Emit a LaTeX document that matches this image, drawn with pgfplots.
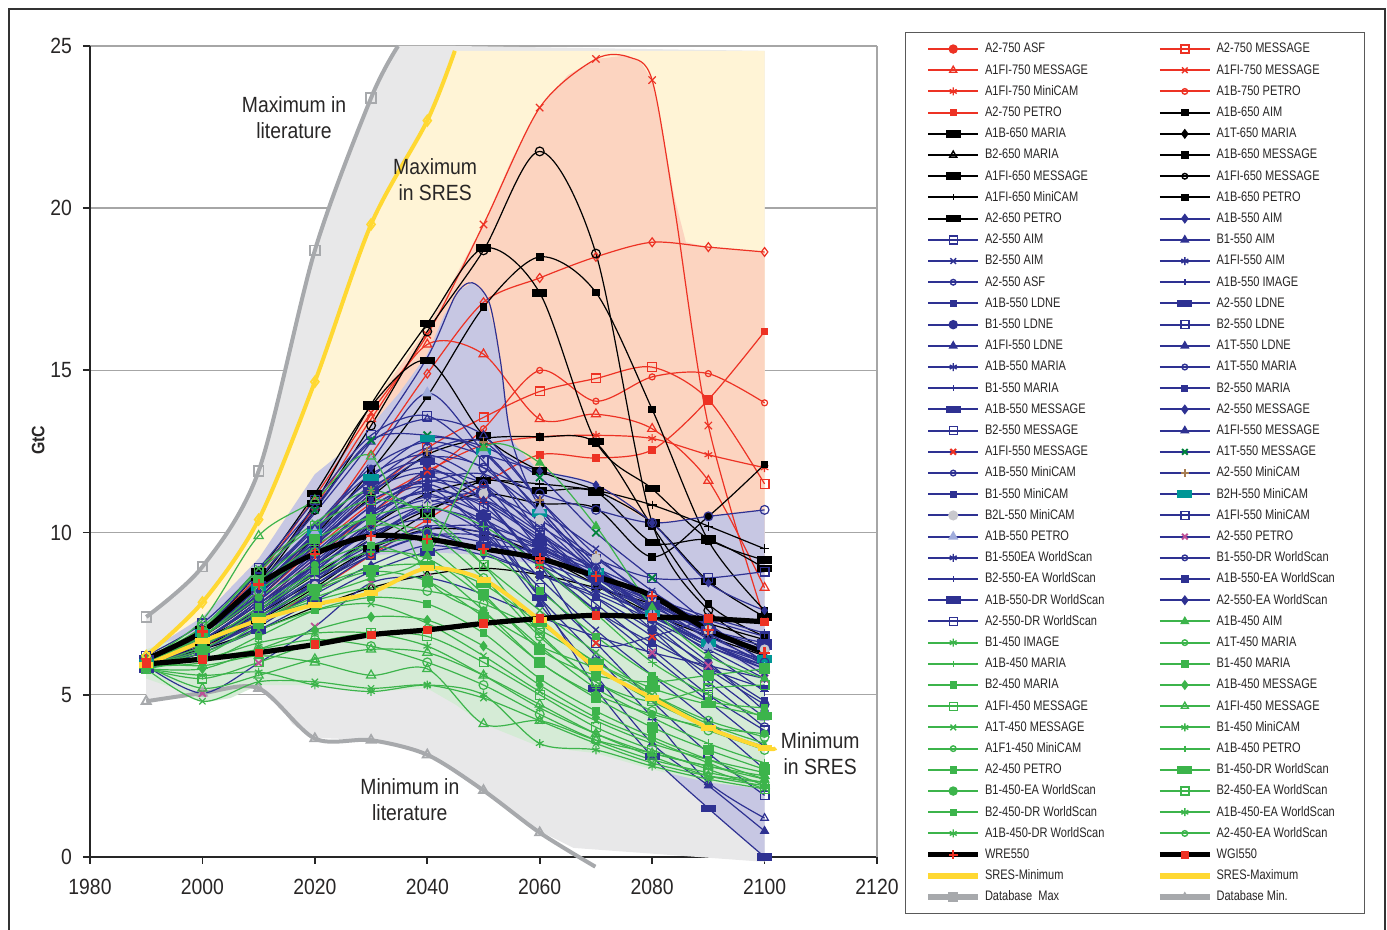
\documentclass[border=0pt]{standalone}
\usepackage{fontspec}
\setmainfont{Liberation Sans}[FakeStretch=0.88]
\newfontfamily\legendfont{Liberation Sans}[FakeStretch=0.8]
\usepackage{pgfplots}
\pgfplotsset{compat=1.18}

\definecolor{cRed}{RGB}{237,50,36}
\definecolor{cBlue}{RGB}{46,49,146}
\definecolor{cGreen}{RGB}{60,180,75}
\definecolor{cDkGreen}{RGB}{0,130,60}
\definecolor{cYellow}{RGB}{255,216,50}
\definecolor{cGrayLine}{RGB}{167,169,172}
\definecolor{fGray}{RGB}{232,232,233}
\definecolor{fYellow}{RGB}{255,244,214}
\definecolor{fRed}{RGB}{252,212,192}
\definecolor{fBlue}{RGB}{199,199,227}
\definecolor{fGreen}{RGB}{213,235,214}
\definecolor{cBrown}{RGB}{166,124,82}
\definecolor{cTeal}{RGB}{0,150,150}
\definecolor{cPink}{RGB}{190,80,150}
\definecolor{cLtBlue}{RGB}{160,172,220}
\definecolor{cLtGray}{RGB}{200,200,205}
\definecolor{cText}{RGB}{40,38,38}

\newcommand{\LA}[1]{\makebox[84pt][l]{#1}}
\newcommand{\LB}[1]{\makebox[62pt][l]{#1}}

\pgfplotsset{
  dataline/.style={line width=0.6pt, smooth, mark size=2.2pt, mark options={solid, line width=0.6pt}},
  sR/.style={cRed, dataline},
  sK/.style={black, dataline},
  sB/.style={cBlue, dataline},
  sG/.style={cGreen, dataline},
  rect/.style={mark=square*, mark options={solid, xscale=1.6, yscale=0.7}},
  legline/.style={line width=1pt, mark size=2pt, mark options={solid, line width=0.7pt}},
  lR/.style={cRed, legline},
  lK/.style={black, legline},
  lB/.style={cBlue, legline},
  lG/.style={cGreen, legline},
}

\begin{document}
\begin{tikzpicture}
\begin{axis}[
  scale only axis, width=393.5pt, height=405.5pt,
  xmin=1980, xmax=2120, ymin=0, ymax=25,
  clip=false,
  axis lines=left, axis line style={-, black!85, line width=0.9pt},
  xtick={1980,2000,...,2120}, ytick={0,5,...,25},
  tick align=outside, major tick length=3.5pt,
  tick style={black!85, line width=0.9pt},
  ymajorgrids, grid style={black!35, line width=0.7pt},
  /pgf/number format/1000 sep={},
  /pgf/number format/assume math mode=true,
  xticklabel style={font=\fontsize{11}{13}\selectfont, text=cText, yshift=-4pt},
  yticklabel style={font=\fontsize{11}{13}\selectfont, text=cText, xshift=-2pt},
  ylabel={GtC},
  ylabel style={font=\bfseries\fontsize{9}{10}\selectfont, text=cText, at={(axis description cs:-0.066,0.514)}, anchor=center},
  legend columns=2,
  legend cell align=left,
  legend image code/.code={\draw[mark repeat=2,mark phase=2] plot coordinates {(0pt,0pt) (12.5pt,0pt) (25pt,0pt)};},
  legend style={at={(1.0356,1.0172)}, anchor=north west, draw=black!65, fill=white,
    inner xsep=10pt, inner ysep=5pt, row sep=4pt,
    font=\legendfont\fontsize{6.9}{7.3}\selectfont, text=cText,
    nodes={inner xsep=2pt, inner ysep=0pt, text height=5.2pt, text depth=1.4pt}},
]

% ---- shaded ranges ----
% literature range
\addplot[draw=none, fill=fGray, forget plot] coordinates {(1990,7.4)(1995,8.0)(2000,8.95)(2005,10.2)(2010,11.9)(2015,15.0)(2020,18.7)(2025,21.3)(2030,23.4)(2034.8,25)(2044.9,25)(2100,24.85)(2100,-0.15)(2066,0.28)(2060,0.8)(2055,1.45)(2050,2.05)(2045,2.7)(2040,3.15)(2035,3.45)(2030,3.62)(2025,3.64)(2020,3.67)(2016,4.1)(2013,4.85)(2010,5.2)(2007,5.35)(2005,5.3)(2000,5.05)(1995,4.9)(1990,4.8)} -- cycle;
% SRES range
\addplot[draw=none, fill=fYellow, forget plot] coordinates {(1990,6.2)(1995,6.9)(2000,7.85)(2005,9.0)(2010,10.4)(2015,12.4)(2020,14.65)(2025,17.1)(2030,19.5)(2035,21.2)(2040,22.7)(2044.9,24.85)(2100,24.85)(2100,3.36)(2090,3.98)(2080,4.9)(2070,5.83)(2060,7.3)(2050,8.55)(2040,8.9)(2030,8.15)(2020,7.78)(2010,7.3)(2000,6.65)(1990,5.92)} -- cycle;
% 750 / 650 range
\addplot[draw=none, fill=fRed, forget plot] coordinates {(1990,6.2)(2000,7.3)(2010,8.9)(2020,11.2)(2030,13.9)(2040,16.3)(2045,17.9)(2050,19.5)(2055,21.5)(2060,23.1)(2065,24.1)(2070,24.6)(2075,24.7)(2078,24.5)(2080,23.95)(2082,22.2)(2084,20.3)(2086,18.95)(2090,18.8)(2100,18.65)(2100,8)(1990,6)} -- cycle;
% 550 range
\addplot[draw=none, fill=fBlue, forget plot] coordinates {(1990,6.3)(2000,7.4)(2010,9.2)(2015,10.5)(2020,11.8)(2025,12.5)(2030,13.3)(2035,14.3)(2040,15.5)(2043,16.7)(2046,17.5)(2048,17.7)(2050,17.4)(2052,16.25)(2055,12.85)(2060,11.85)(2065,11.75)(2070,11.5)(2075,10.8)(2080,10.3)(2085,10.35)(2090,10.5)(2100,10.7)(2100,0)(2090,1.5)(2080,3.1)(2070,4.5)(2060,5.5)(2050,6.0)(2040,6.3)(2030,6.5)(2020,6.5)(2010,6.0)(2000,5.6)(1990,5.6)} -- cycle;
% 450 range
\addplot[draw=none, fill=fGreen, forget plot] coordinates {(1990,6.4)(2000,7.0)(2010,7.9)(2020,8.8)(2030,9.3)(2040,9.4)(2050,9.3)(2060,9.0)(2070,8.6)(2080,7.7)(2090,6.5)(2100,5.6)(2100,2.1)(2090,2.3)(2080,2.7)(2070,3.2)(2060,3.4)(2050,4.1)(2045,4.7)(2040,5.2)(2030,5.1)(2020,5.3)(2010,5.3)(2005,4.9)(2000,4.75)(1995,5.2)(1990,5.5)} -- cycle;

% ---- literature extremes ----
\addplot[cGrayLine, line width=2pt, smooth, mark=square, mark size=2.4pt, mark options={solid, line width=0.9pt}, mark indices={1,2,3,4,5}, forget plot] coordinates {(1990,7.4)(2000,8.95)(2010,11.9)(2020,18.7)(2030,23.4)(2034.8,25)};
\addplot[cGrayLine, line width=2pt, smooth, mark=triangle, mark size=2.6pt, mark options={solid, line width=0.9pt}, mark indices={1,2,3,4,5,6,7,8}, forget plot] coordinates {(1990,4.8)(2000,5.05)(2010,5.2)(2020,3.65)(2030,3.6)(2040,3.15)(2050,2.05)(2060,0.75)(2069.9,-0.3)};

% ---- 750 scenarios ----
\addplot[sR, mark=diamond, forget plot] coordinates {(1990,6.1)(2000,6.9)(2010,8.2)(2020,10.0)(2030,12.4)(2040,14.9)(2050,17.1)(2060,17.85)(2070,18.5)(2080,18.95)(2090,18.8)(2100,18.65)};
\addplot[sR, mark=square, forget plot] coordinates {(1990,6.0)(2000,6.8)(2010,8.0)(2020,9.6)(2030,11.2)(2040,12.6)(2050,13.55)(2060,14.35)(2070,14.75)(2080,15.1)(2090,14.1)(2100,11.5)};
\addplot[sR, mark=triangle, mark size=2.6pt, forget plot] coordinates {(1990,6.0)(2000,7.0)(2010,8.6)(2020,10.8)(2030,13.5)(2040,15.8)(2050,15.5)(2060,13.5)(2070,13.65)(2080,13.2)(2090,11.6)(2100,8.3)};
\addplot[sR, mark=x, mark size=2.6pt, mark indices={1,2,3,4,5,6,7,8,9,11,13,14}, forget plot] coordinates {(1990,6.0)(2000,7.0)(2010,8.7)(2020,11.1)(2030,13.7)(2040,16.1)(2050,19.5)(2060,23.1)(2070,24.6)(2076,24.65)(2080,23.95)(2084,20.0)(2090,13.3)(2100,7.3)};
\addplot[sR, mark=asterisk, forget plot] coordinates {(1990,6.0)(2000,6.8)(2010,8.0)(2020,9.5)(2030,10.9)(2040,11.9)(2050,12.7)(2060,12.95)(2070,13.0)(2080,12.9)(2090,12.4)(2100,12.0)};
\addplot[sR, mark=o, mark size=1.5pt, forget plot] coordinates {(1990,6.0)(2000,6.7)(2010,7.8)(2020,9.2)(2030,10.6)(2040,11.8)(2050,13.2)(2060,15.0)(2070,14.05)(2080,14.8)(2090,14.9)(2100,14.0)};
\addplot[sR, mark=square*, mark size=1.6pt, forget plot] coordinates {(1990,6.0)(2000,6.5)(2010,7.2)(2020,8.2)(2030,9.3)(2040,10.4)(2050,11.5)(2060,12.4)(2070,12.3)(2080,12.55)(2090,14.1)(2100,16.2)};

% ---- 650 scenarios ----
\addplot[sK, mark=square*, mark size=1.6pt, forget plot] coordinates {(1990,6.0)(2000,6.8)(2010,8.1)(2020,9.9)(2030,11.9)(2040,14.2)(2050,16.95)(2060,18.5)(2070,17.4)(2080,13.8)(2090,9.75)(2100,7.6)};
\addplot[sK, rect, forget plot] coordinates {(1990,6.0)(2000,6.9)(2010,8.5)(2020,10.9)(2030,13.95)(2040,16.45)(2050,18.77)(2060,17.39)(2070,12.8)(2080,11.35)(2090,9.8)(2100,9.15)};
\addplot[sK, mark=o, forget plot] coordinates {(1990,6.0)(2000,6.9)(2010,8.4)(2020,10.7)(2030,13.3)(2040,16.2)(2050,18.7)(2060,21.75)(2070,18.6)(2080,10.3)(2090,7.6)(2100,6.4)};
\addplot[sK, mark=+, forget plot] coordinates {(1990,6.0)(2000,6.7)(2010,7.8)(2020,9.0)(2030,10.2)(2040,11.2)(2050,11.6)(2060,11.5)(2070,11.3)(2080,10.85)(2090,10.2)(2100,9.5)};
\addplot[sK, mark=square*, mark size=1.6pt, forget plot] coordinates {(1990,6.0)(2000,6.7)(2010,7.6)(2020,8.7)(2030,9.8)(2040,10.7)(2050,11.2)(2060,10.9)(2070,10.75)(2080,9.25)(2090,10.5)(2100,12.1)};
\addplot[sK, rect, forget plot] coordinates {(1990,6.0)(2000,6.5)(2010,7.3)(2020,8.3)(2030,9.5)(2040,10.6)(2050,11.6)(2060,11.3)(2070,11.25)(2080,9.7)(2090,9.77)(2100,8.9)};
\addplot[sK, mark=diamond*, mark size=1.8pt, forget plot] coordinates {(1990,6.0)(2000,6.6)(2010,7.5)(2020,8.5)(2030,9.5)(2040,10.1)(2050,10.0)(2060,9.3)(2070,8.4)(2080,7.5)(2090,6.8)(2100,6.2)};
\addplot[sK, mark=triangle, forget plot] coordinates {(1990,6.0)(2000,6.4)(2010,7.0)(2020,7.7)(2030,8.3)(2040,8.7)(2050,8.9)(2060,8.7)(2070,8.3)(2080,7.8)(2090,7.2)(2100,6.7)};
\addplot[sK, mark=square*, mark size=1.6pt, forget plot] coordinates {(1990,6.0)(2000,6.8)(2010,8.0)(2020,9.6)(2030,11.1)(2040,12.4)(2050,12.9)(2060,12.95)(2070,12.76)(2080,10.2)(2090,7.8)(2100,6.8)};
\addplot[sK, rect, forget plot] coordinates {(1990,6.0)(2000,7.0)(2010,8.8)(2020,11.2)(2030,13.9)(2040,15.3)(2050,13.0)(2060,11.9)(2070,11.3)(2080,10.3)(2090,8.5)(2100,7.4)};

% ---- 550 scenarios ----
\addplot[sB, mark=none, forget plot] coordinates {(1990,6.0)(2000,6.9)(2010,8.6)(2020,10.6)(2030,12.8)(2040,15.4)(2045,17.3)(2048,17.7)(2051,17.1)(2053,15.3)(2055,12.85)(2060,10.8)(2070,8.9)(2080,7.6)(2090,6.6)(2100,5.9)};
\addplot[sB, mark=o, forget plot] coordinates {(1990,6.0)(2000,6.8)(2010,8.2)(2020,9.8)(2030,11.5)(2040,12.6)(2050,12.0)(2060,11.2)(2070,10.7)(2080,10.3)(2090,10.5)(2100,10.7)};
\addplot[sB, mark=diamond*, mark size=1.8pt, forget plot] coordinates {(1990,6.0)(2000,6.9)(2010,8.4)(2020,10.2)(2030,12.0)(2040,12.8)(2050,12.4)(2060,11.9)(2070,11.47)(2080,10.3)(2090,8.45)(2100,7.6)};
\addplot[sB, mark=square, forget plot] coordinates {(1990,6.0)(2000,6.7)(2010,7.9)(2020,9.4)(2030,10.8)(2040,11.6)(2050,11.3)(2060,10.2)(2070,9.2)(2080,8.6)(2090,8.6)(2100,8.8)};
\addplot[sB, mark=triangle, forget plot] coordinates {(1990,6.1)(2000,7.0)(2010,8.8)(2020,10.8)(2030,12.8)(2040,13.5)(2050,13.0)(2060,11.0)(2070,9.0)(2080,7.5)(2090,6.5)(2100,5.9)};
\addplot[sB, mark=x, forget plot] coordinates {(1990,5.9)(2000,6.6)(2010,7.6)(2020,8.8)(2030,10.2)(2040,11.5)(2050,11.8)(2060,10.7)(2070,9.5)(2080,8.2)(2090,7.1)(2100,6.2)};
\addplot[sB, mark=asterisk, forget plot] coordinates {(1990,5.8)(2000,6.4)(2010,7.3)(2020,8.5)(2030,9.8)(2040,10.8)(2050,11.0)(2060,10.0)(2070,8.8)(2080,7.6)(2090,6.6)(2100,5.8)};
\addplot[sB, mark=o, forget plot] coordinates {(1990,6.0)(2000,6.8)(2010,8.0)(2020,9.6)(2030,11.2)(2040,12.3)(2050,12.0)(2060,10.3)(2070,8.7)(2080,7.2)(2090,5.8)(2100,4.7)};
\addplot[sB, mark=+, forget plot] coordinates {(1990,5.9)(2000,6.5)(2010,7.4)(2020,8.4)(2030,9.5)(2040,10.2)(2050,10.0)(2060,9.5)(2070,8.8)(2080,8.0)(2090,7.4)(2100,6.9)};
\addplot[sB, mark=square*, mark size=1.6pt, forget plot] coordinates {(1990,6.0)(2000,6.9)(2010,8.3)(2020,9.9)(2030,11.4)(2040,12.0)(2050,11.0)(2060,9.0)(2070,7.6)(2080,6.6)(2090,5.8)(2100,5.2)};
\addplot[sB, rect, forget plot] coordinates {(1990,5.8)(2000,6.3)(2010,7.0)(2020,7.9)(2030,8.8)(2040,9.4)(2050,9.6)(2060,9.4)(2070,8.6)(2080,7.8)(2090,7.0)(2100,6.5)};
\addplot[sB, mark=*, mark size=1.8pt, forget plot] coordinates {(1990,6.0)(2000,6.7)(2010,7.8)(2020,9.0)(2030,10.3)(2040,11.1)(2050,10.6)(2060,9.6)(2070,8.5)(2080,7.3)(2090,6.0)(2100,4.5)};
\addplot[sB, mark=square, forget plot] coordinates {(1990,5.9)(2000,6.6)(2010,7.7)(2020,9.1)(2030,10.5)(2040,11.3)(2050,10.8)(2060,9.2)(2070,7.8)(2080,6.4)(2090,5.0)(2100,3.9)};
\addplot[sB, mark=triangle, forget plot] coordinates {(1990,6.1)(2000,7.0)(2010,8.5)(2020,10.2)(2030,11.8)(2040,12.4)(2050,11.5)(2060,9.5)(2070,8.0)(2080,6.8)(2090,5.6)(2100,4.3)};
\addplot[sB, mark=triangle*, forget plot] coordinates {(1990,5.8)(2000,6.4)(2010,7.4)(2020,8.6)(2030,9.9)(2040,10.7)(2050,10.3)(2060,9.0)(2070,7.6)(2080,6.2)(2090,4.8)(2100,3.4)};
\addplot[sB, mark=x, forget plot] coordinates {(1990,6.0)(2000,6.8)(2010,8.1)(2020,9.6)(2030,11.0)(2040,11.5)(2050,10.5)(2060,8.6)(2070,7.0)(2080,5.6)(2090,4.2)(2100,2.7)};
\addplot[sB, mark=square, forget plot] coordinates {(1990,5.9)(2000,6.5)(2010,7.5)(2020,8.8)(2030,10.1)(2040,10.8)(2050,10.0)(2060,8.3)(2070,6.6)(2080,4.8)(2090,3.2)(2100,1.9)};
\addplot[sB, mark=triangle, forget plot] coordinates {(1990,6.0)(2000,6.7)(2010,7.8)(2020,9.2)(2030,10.6)(2040,11.2)(2050,10.2)(2060,8.0)(2070,6.2)(2080,4.3)(2090,2.3)(2100,1.2)};
\addplot[sB, mark=triangle*, forget plot] coordinates {(1990,6.0)(2000,6.7)(2010,7.9)(2020,9.3)(2030,10.8)(2040,11.4)(2050,10.0)(2060,7.8)(2070,5.6)(2080,3.5)(2090,2.2)(2100,0.8)};
\addplot[sB, rect, forget plot] coordinates {(1990,6.1)(2000,6.9)(2010,8.2)(2020,9.8)(2030,11.3)(2040,11.8)(2050,10.5)(2060,8.0)(2070,5.2)(2080,3.1)(2090,1.5)(2100,0.0)};
\addplot[sB, mark=o, forget plot] coordinates {(1990,5.8)(2000,6.3)(2010,7.1)(2020,8.2)(2030,9.3)(2040,9.9)(2050,9.7)(2060,9.1)(2070,8.4)(2080,7.6)(2090,6.8)(2100,6.0)};
\addplot[sB, mark=+, forget plot] coordinates {(1990,5.9)(2000,6.6)(2010,7.6)(2020,8.9)(2030,10.0)(2040,10.4)(2050,9.8)(2060,9.0)(2070,8.2)(2080,7.5)(2090,6.9)(2100,6.4)};
\addplot[sB, rect, forget plot] coordinates {(1990,6.0)(2000,6.9)(2010,8.4)(2020,10.1)(2030,11.6)(2040,12.2)(2050,11.2)(2060,9.7)(2070,8.6)(2080,7.7)(2090,7.0)(2100,6.6)};
\addplot[sB, mark=diamond*, mark size=1.8pt, forget plot] coordinates {(1990,5.9)(2000,6.4)(2010,7.2)(2020,8.1)(2030,9.0)(2040,9.6)(2050,9.3)(2060,8.7)(2070,8.1)(2080,7.3)(2090,6.4)(2100,5.5)};
\addplot[sB, mark=square, forget plot] coordinates {(1990,6.2)(2000,7.2)(2010,8.9)(2020,11.0)(2030,13.0)(2040,13.6)(2050,12.2)(2060,10.0)(2070,8.4)(2080,7.4)(2090,6.6)(2100,6.0)};
\addplot[sB, mark=x, mark options={solid, cRed, line width=0.9pt}, mark size=2.6pt, forget plot] coordinates {(1990,5.9)(2000,6.5)(2010,7.5)(2020,8.8)(2030,10.3)(2040,11.9)(2050,11.0)(2060,9.0)(2070,6.6)(2080,6.8)(2090,7.3)(2100,7.25)};
\addplot[sB, mark=x, mark options={solid, cDkGreen, line width=0.9pt}, mark size=2.6pt, forget plot] coordinates {(1990,6.0)(2000,7.0)(2010,8.6)(2020,10.7)(2030,12.85)(2040,13.0)(2050,12.65)(2060,11.7)(2070,10.0)(2080,8.6)(2090,7.2)(2100,6.0)};
\addplot[sB, mark=o, forget plot] coordinates {(1990,5.9)(2000,6.5)(2010,7.6)(2020,9.0)(2030,10.6)(2040,11.8)(2050,11.5)(2060,10.0)(2070,8.5)(2080,7.0)(2090,5.4)(2100,4.0)};
\addplot[sB, mark=+, mark options={solid, cBrown, line width=0.9pt}, forget plot] coordinates {(1990,6.0)(2000,6.8)(2010,8.1)(2020,9.7)(2030,11.3)(2040,12.5)(2050,12.8)(2060,11.0)(2070,9.3)(2080,7.9)(2090,6.9)(2100,6.3)};
\addplot[sB, mark=square*, mark size=1.6pt, forget plot] coordinates {(1990,5.9)(2000,6.5)(2010,7.5)(2020,8.6)(2030,9.6)(2040,10.0)(2050,9.4)(2060,8.7)(2070,8.0)(2080,7.0)(2090,5.9)(2100,4.8)};
\addplot[sB, mark=square*, mark options={solid, cTeal, xscale=1.6, yscale=0.7}, forget plot] coordinates {(1990,6.0)(2000,6.9)(2010,8.3)(2020,10.0)(2030,11.7)(2040,12.9)(2050,12.5)(2060,10.6)(2070,8.8)(2080,7.5)(2090,6.6)(2100,6.1)};
\addplot[sB, mark=*, mark options={solid, cLtGray}, forget plot] coordinates {(1990,5.8)(2000,6.4)(2010,7.3)(2020,8.5)(2030,9.8)(2040,10.9)(2050,11.2)(2060,10.4)(2070,9.2)(2080,8.0)(2090,7.0)(2100,6.4)};
\addplot[sB, mark=square, forget plot] coordinates {(1990,6.0)(2000,6.6)(2010,7.4)(2020,8.4)(2030,9.3)(2040,9.9)(2050,9.9)(2060,9.3)(2070,8.6)(2080,7.9)(2090,7.3)(2100,6.8)};
\addplot[sB, mark=triangle*, mark options={solid, cLtBlue}, mark size=2.8pt, forget plot] coordinates {(1990,6.0)(2000,6.8)(2010,8.2)(2020,10.0)(2030,12.2)(2040,14.3)(2050,12.5)(2060,10.7)(2070,8.9)(2080,7.5)(2090,6.5)(2100,5.8)};
\addplot[sB, mark=x, mark options={solid, cPink, line width=0.9pt}, mark size=2.6pt, forget plot] coordinates {(1990,5.9)(2000,5.05)(2010,5.98)(2020,7.1)(2030,8.45)(2040,8.6)(2050,8.1)(2060,7.4)(2070,6.8)(2080,6.3)(2090,5.9)(2100,5.5)};
\addplot[sB, mark=x, forget plot] coordinates {(1990,6.0)(2000,6.6)(2010,7.7)(2020,9.0)(2030,10.3)(2040,11.0)(2050,10.4)(2060,9.5)(2070,8.7)(2080,7.9)(2090,6.9)(2100,5.9)};
\addplot[sB, mark=o, forget plot] coordinates {(1990,5.9)(2000,6.4)(2010,7.3)(2020,8.4)(2030,9.4)(2040,10.1)(2050,10.2)(2060,9.6)(2070,8.9)(2080,8.1)(2090,7.1)(2100,6.0)};
\addplot[sB, mark=+, forget plot] coordinates {(1990,6.0)(2000,6.7)(2010,7.9)(2020,9.3)(2030,10.6)(2040,11.3)(2050,10.9)(2060,9.8)(2070,8.6)(2080,7.5)(2090,6.3)(2100,5.1)};
\addplot[sB, mark=diamond*, mark size=1.8pt, forget plot] coordinates {(1990,6.1)(2000,6.9)(2010,8.2)(2020,9.7)(2030,11.0)(2040,11.6)(2050,11.0)(2060,9.9)(2070,8.9)(2080,7.8)(2090,6.7)(2100,5.6)};

% ---- 450 scenarios ----
\addplot[sG, mark=triangle*, forget plot] coordinates {(1990,6.0)(2000,6.6)(2010,7.3)(2020,8.0)(2030,8.6)(2040,9.3)(2050,12.6)(2060,12.15)(2070,10.2)(2080,7.7)(2090,6.2)(2100,5.5)};
\addplot[sG, mark=triangle, mark size=2.6pt, forget plot] coordinates {(1990,6.1)(2000,7.3)(2010,9.9)(2020,11.0)(2030,12.35)(2040,8.6)(2050,7.5)(2060,6.5)(2070,5.8)(2080,4.8)(2090,4.0)(2100,3.4)};
\addplot[sG, mark=x, forget plot] coordinates {(1990,6.0)(2000,7.0)(2010,8.9)(2020,10.3)(2030,11.3)(2040,10.5)(2050,9.0)(2060,7.6)(2070,6.3)(2080,5.0)(2090,4.1)(2100,3.5)};
\addplot[sG, mark=o, forget plot] coordinates {(1990,6.0)(2000,6.8)(2010,8.2)(2020,9.4)(2030,10.2)(2040,10.0)(2050,8.6)(2060,6.8)(2070,5.4)(2080,4.5)(2090,3.9)(2100,3.3)};
\addplot[sG, mark=+, forget plot] coordinates {(1990,5.9)(2000,6.5)(2010,7.6)(2020,8.7)(2030,9.4)(2040,9.2)(2050,8.0)(2060,6.5)(2070,5.2)(2080,4.3)(2090,3.5)(2100,2.9)};
\addplot[sG, mark=square*, mark size=2.4pt, forget plot] coordinates {(1990,6.0)(2000,6.2)(2010,7.2)(2020,8.2)(2030,8.8)(2040,8.5)(2050,7.4)(2060,6.0)(2070,4.9)(2080,4.0)(2090,3.3)(2100,2.7)};
\addplot[sG, mark=square*, mark size=1.6pt, forget plot] coordinates {(1990,5.9)(2000,6.0)(2010,6.8)(2020,7.6)(2030,8.0)(2040,7.8)(2050,6.9)(2060,5.5)(2070,4.5)(2080,3.7)(2090,3.0)(2100,2.4)};
\addplot[sG, mark=diamond*, forget plot] coordinates {(1990,5.8)(2000,5.8)(2010,6.4)(2020,7.0)(2030,7.4)(2040,7.3)(2050,6.5)(2060,5.3)(2070,4.3)(2080,3.6)(2090,2.9)(2100,2.2)};
\addplot[sG, mark=square, forget plot] coordinates {(1990,5.8)(2000,5.5)(2010,6.0)(2020,6.6)(2030,6.9)(2040,6.8)(2050,6.0)(2060,5.0)(2070,4.0)(2080,3.3)(2090,2.7)(2100,2.1)};
\addplot[sG, mark=triangle, mark size=2.6pt, forget plot] coordinates {(1990,5.9)(2000,5.2)(2010,5.6)(2020,6.1)(2030,6.4)(2040,6.3)(2050,5.6)(2060,4.7)(2070,3.8)(2080,3.1)(2090,2.5)(2100,2.2)};
\addplot[sG, mark=x, forget plot] coordinates {(1990,5.8)(2000,4.8)(2010,5.4)(2020,5.4)(2030,5.2)(2040,5.3)(2050,4.9)(2060,4.2)(2070,3.5)(2080,2.9)(2090,2.5)(2100,2.3)};
\addplot[sG, mark=asterisk, forget plot] coordinates {(1990,5.8)(2000,5.6)(2010,5.7)(2020,5.3)(2030,5.1)(2040,5.3)(2050,5.0)(2060,3.5)(2070,3.3)(2080,2.8)(2090,2.4)(2100,2.1)};
\addplot[sG, mark=triangle, mark size=2.6pt, forget plot] coordinates {(1990,6.0)(2000,5.9)(2010,6.2)(2020,6.0)(2030,5.6)(2040,5.8)(2050,4.1)(2060,4.2)(2070,3.6)(2080,3.2)(2090,2.8)(2100,2.5)};
\addplot[sG, mark=o, forget plot] coordinates {(1990,6.0)(2000,6.6)(2010,7.3)(2020,7.9)(2030,8.3)(2040,8.2)(2050,7.8)(2060,7.0)(2070,6.0)(2080,5.0)(2090,4.2)(2100,3.7)};
\addplot[sG, mark=+, forget plot] coordinates {(1990,6.1)(2000,7.0)(2010,8.4)(2020,9.6)(2030,10.5)(2040,10.8)(2050,10.2)(2060,9.0)(2070,7.5)(2080,6.0)(2090,5.0)(2100,4.3)};
\addplot[sG, mark=square*, mark size=1.6pt, forget plot] coordinates {(1990,6.0)(2000,6.6)(2010,7.7)(2020,8.8)(2030,9.6)(2040,9.8)(2050,9.4)(2060,8.2)(2070,6.8)(2080,5.6)(2090,4.8)(2100,4.6)};
\addplot[sG, rect, forget plot] coordinates {(1990,5.9)(2000,6.4)(2010,7.4)(2020,8.3)(2030,8.9)(2040,9.0)(2050,8.4)(2060,7.2)(2070,6.0)(2080,5.2)(2090,4.7)(2100,4.35)};
\addplot[sG, mark=*, mark size=1.8pt, forget plot] coordinates {(1990,6.0)(2000,6.8)(2010,8.0)(2020,9.0)(2030,9.6)(2040,9.0)(2050,7.6)(2060,6.0)(2070,5.0)(2080,4.4)(2090,4.0)(2100,3.8)};
\addplot[sG, mark=square, forget plot] coordinates {(1990,6.1)(2000,7.1)(2010,8.8)(2020,10.2)(2030,11.0)(2040,10.6)(2050,9.0)(2060,6.9)(2070,5.4)(2080,4.8)(2090,5.2)(2100,5.3)};
\addplot[sG, mark=square*, mark size=2.4pt, forget plot] coordinates {(1990,6.0)(2000,6.9)(2010,8.5)(2020,9.8)(2030,10.4)(2040,9.6)(2050,8.1)(2060,6.4)(2070,5.6)(2080,5.4)(2090,5.6)(2100,5.8)};
\addplot[sG, mark=x, forget plot] coordinates {(1990,5.9)(2000,6.3)(2010,7.0)(2020,7.6)(2030,7.8)(2040,7.2)(2050,6.2)(2060,5.1)(2070,4.2)(2080,3.5)(2090,3.0)(2100,2.6)};
\addplot[sG, mark=asterisk, forget plot] coordinates {(1990,6.0)(2000,6.1)(2010,6.6)(2020,6.9)(2030,6.9)(2040,6.5)(2050,5.6)(2060,4.6)(2070,3.8)(2080,3.2)(2090,2.8)(2100,2.4)};
\addplot[sG, mark=o, forget plot] coordinates {(1990,5.8)(2000,6.1)(2010,6.4)(2020,6.7)(2030,6.5)(2040,6.0)(2050,5.3)(2060,4.4)(2070,3.6)(2080,3.0)(2090,2.6)(2100,2.3)};

% ---- SRES extremes ----
\addplot[cYellow, line width=2pt, smooth, mark=diamond, mark size=2.6pt, mark options={solid, line width=0.9pt}, mark indices={1,2,3,4,5,6}, forget plot] coordinates {(1990,6.2)(2000,7.85)(2010,10.4)(2020,14.65)(2030,19.5)(2040,22.7)(2044.9,24.85)};
\addplot[cYellow, line width=2pt, smooth, mark=square*, mark size=2.2pt, mark options={solid, line width=0.4pt, xscale=1.5, yscale=0.55}, mark indices={1,2,3,4,5,6,7,8,9,10,11,12}, forget plot] coordinates {(1990,5.92)(2000,6.65)(2010,7.3)(2020,7.78)(2030,8.15)(2040,8.9)(2050,8.55)(2060,7.3)(2070,5.83)(2080,4.9)(2090,3.98)(2100,3.36)(2102,3.36)};

% ---- WRE and WGI profiles ----
\addplot[black, line width=2.6pt, smooth, mark=+, mark size=2.6pt, mark options={solid, cRed, line width=1.1pt}, forget plot] coordinates {(1990,6.1)(2000,6.95)(2010,8.4)(2020,9.35)(2030,9.9)(2040,9.8)(2050,9.5)(2060,9.2)(2070,8.65)(2080,8.05)(2090,7.0)(2100,6.3)};
\addplot[black, line width=2.6pt, smooth, mark=square*, mark size=1.9pt, mark options={solid, cRed, line width=0.3pt}, forget plot] coordinates {(1990,5.95)(2000,6.1)(2010,6.3)(2020,6.55)(2030,6.85)(2040,7.0)(2050,7.2)(2060,7.35)(2070,7.45)(2080,7.4)(2090,7.35)(2100,7.25)};

% right frame of the plot area
\draw[black!35, line width=0.7pt] (axis cs:2120,0) -- (axis cs:2120,25);

% annotations
\node[align=center, text=cText, font=\fontsize{11}{13}\selectfont] at (axis cs:2016.3,22.78) {Maximum in\\literature};
\node[align=center, text=cText, font=\fontsize{11}{13}\selectfont] at (axis cs:2041.4,20.87) {Maximum\\in SRES};
\node[align=center, text=cText, font=\fontsize{11}{13}\selectfont] at (axis cs:2036.9,1.76) {Minimum in\\literature};
\node[align=center, text=cText, font=\fontsize{11}{13}\selectfont] at (axis cs:2109.9,3.2) {Minimum\\in SRES};

% ---- legend ----
\addlegendimage{lR, mark=*}\addlegendentry{\LA{A2-750 ASF}}
\addlegendimage{lR, mark=square}\addlegendentry{\LB{A2-750 MESSAGE}}
\addlegendimage{lR, mark=triangle}\addlegendentry{\LA{A1FI-750 MESSAGE}}
\addlegendimage{lR, mark=x}\addlegendentry{\LB{A1FI-750 MESSAGE}}
\addlegendimage{lR, mark=asterisk}\addlegendentry{\LA{A1FI-750 MiniCAM}}
\addlegendimage{lR, mark=o, mark size=1.4pt}\addlegendentry{\LB{A1B-750 PETRO}}
\addlegendimage{lR, mark=square*, mark size=1.5pt}\addlegendentry{\LA{A2-750 PETRO}}
\addlegendimage{lK, mark=square*, mark size=1.5pt}\addlegendentry{\LB{A1B-650 AIM}}
\addlegendimage{lK, rect}\addlegendentry{\LA{A1B-650 MARIA}}
\addlegendimage{lK, mark=diamond*}\addlegendentry{\LB{A1T-650 MARIA}}
\addlegendimage{lK, mark=triangle}\addlegendentry{\LA{B2-650 MARIA}}
\addlegendimage{lK, mark=square*, mark size=1.5pt}\addlegendentry{\LB{A1B-650 MESSAGE}}
\addlegendimage{lK, rect}\addlegendentry{\LA{A1FI-650 MESSAGE}}
\addlegendimage{lK, mark=o, mark size=1.4pt}\addlegendentry{\LB{A1FI-650 MESSAGE}}
\addlegendimage{lK, mark=+, mark size=1.5pt}\addlegendentry{\LA{A1FI-650 MiniCAM}}
\addlegendimage{lK, mark=square*, mark size=1.5pt}\addlegendentry{\LB{A1B-650 PETRO}}
\addlegendimage{lK, rect}\addlegendentry{\LA{A2-650 PETRO}}
\addlegendimage{lB, mark=diamond*}\addlegendentry{\LB{A1B-550 AIM}}
\addlegendimage{lB, mark=square}\addlegendentry{\LA{A2-550 AIM}}
\addlegendimage{lB, mark=triangle*}\addlegendentry{\LB{B1-550 AIM}}
\addlegendimage{lB, mark=x}\addlegendentry{\LA{B2-550 AIM}}
\addlegendimage{lB, mark=asterisk}\addlegendentry{\LB{A1FI-550 AIM}}
\addlegendimage{lB, mark=o, mark size=1.4pt}\addlegendentry{\LA{A2-550 ASF}}
\addlegendimage{lB, mark=+, mark size=1.5pt}\addlegendentry{\LB{A1B-550 IMAGE}}
\addlegendimage{lB, mark=square*, mark size=1.5pt}\addlegendentry{\LA{A1B-550 LDNE}}
\addlegendimage{lB, rect}\addlegendentry{\LB{A2-550 LDNE}}
\addlegendimage{lB, mark=*}\addlegendentry{\LA{B1-550 LDNE}}
\addlegendimage{lB, mark=square}\addlegendentry{\LB{B2-550 LDNE}}
\addlegendimage{lB, mark=triangle*}\addlegendentry{\LA{A1FI-550 LDNE}}
\addlegendimage{lB, mark=triangle*}\addlegendentry{\LB{A1T-550 LDNE}}
\addlegendimage{lB, mark=asterisk}\addlegendentry{\LA{A1B-550 MARIA}}
\addlegendimage{lB, mark=o, mark size=1.4pt}\addlegendentry{\LB{A1T-550 MARIA}}
\addlegendimage{lB, mark=+, mark size=1.5pt}\addlegendentry{\LA{B1-550 MARIA}}
\addlegendimage{lB, mark=square*, mark size=1.4pt}\addlegendentry{\LB{B2-550 MARIA}}
\addlegendimage{lB, rect}\addlegendentry{\LA{A1B-550 MESSAGE}}
\addlegendimage{lB, mark=diamond*}\addlegendentry{\LB{A2-550 MESSAGE}}
\addlegendimage{lB, mark=square}\addlegendentry{\LA{B2-550 MESSAGE}}
\addlegendimage{lB, mark=triangle*}\addlegendentry{\LB{A1FI-550 MESSAGE}}
\addlegendimage{lB, mark=x, mark options={solid, cRed, line width=1pt}}\addlegendentry{\LA{A1FI-550 MESSAGE}}
\addlegendimage{lB, mark=x, mark options={solid, cDkGreen, line width=1pt}}\addlegendentry{\LB{A1T-550 MESSAGE}}
\addlegendimage{lB, mark=o, mark size=1.4pt}\addlegendentry{\LA{A1B-550 MiniCAM}}
\addlegendimage{lB, mark=+, mark options={solid, cBrown, line width=1pt}}\addlegendentry{\LB{A2-550 MiniCAM}}
\addlegendimage{lB, mark=square*, mark size=1.5pt}\addlegendentry{\LA{B1-550 MiniCAM}}
\addlegendimage{lB, mark=square*, mark options={solid, cTeal, xscale=1.6, yscale=0.7}}\addlegendentry{\LB{B2H-550 MiniCAM}}
\addlegendimage{lB, mark=*, mark options={solid, cLtGray}}\addlegendentry{\LA{B2L-550 MiniCAM}}
\addlegendimage{lB, mark=square}\addlegendentry{\LB{A1FI-550 MiniCAM}}
\addlegendimage{lB, mark=triangle*, mark options={solid, cLtBlue}}\addlegendentry{\LA{A1B-550 PETRO}}
\addlegendimage{lB, mark=x, mark options={solid, cPink, line width=1pt}}\addlegendentry{\LB{A2-550 PETRO}}
\addlegendimage{lB, mark=asterisk}\addlegendentry{\LA{B1-550EA WorldScan}}
\addlegendimage{lB, mark=o, mark size=1.4pt}\addlegendentry{\LB{B1-550-DR WorldScan}}
\addlegendimage{lB, mark=+, mark size=1.5pt}\addlegendentry{\LA{B2-550-EA WorldScan}}
\addlegendimage{lB, mark=square*, mark size=1.5pt}\addlegendentry{\LB{A1B-550-EA WorldScan}}
\addlegendimage{lB, rect}\addlegendentry{\LA{A1B-550-DR WorldScan}}
\addlegendimage{lB, mark=diamond*}\addlegendentry{\LB{A2-550-EA WorldScan}}
\addlegendimage{lB, mark=square}\addlegendentry{\LA{A2-550-DR WorldScan}}
\addlegendimage{lG, mark=triangle*}\addlegendentry{\LB{A1B-450 AIM}}
\addlegendimage{lG, mark=asterisk}\addlegendentry{\LA{B1-450 IMAGE}}
\addlegendimage{lG, mark=o, mark size=1.4pt}\addlegendentry{\LB{A1T-450 MARIA}}
\addlegendimage{lG, mark=+, mark size=1.5pt}\addlegendentry{\LA{A1B-450 MARIA}}
\addlegendimage{lG, mark=square*, mark size=1.5pt}\addlegendentry{\LB{B1-450 MARIA}}
\addlegendimage{lG, mark=square*, mark size=1.5pt}\addlegendentry{\LA{B2-450 MARIA}}
\addlegendimage{lG, mark=diamond*}\addlegendentry{\LB{A1B-450 MESSAGE}}
\addlegendimage{lG, mark=square}\addlegendentry{\LA{A1FI-450 MESSAGE}}
\addlegendimage{lG, mark=triangle}\addlegendentry{\LB{A1FI-450 MESSAGE}}
\addlegendimage{lG, mark=x}\addlegendentry{\LA{A1T-450 MESSAGE}}
\addlegendimage{lG, mark=asterisk}\addlegendentry{\LB{B1-450 MiniCAM}}
\addlegendimage{lG, mark=o, mark size=1.4pt}\addlegendentry{\LA{A1F1-450 MiniCAM}}
\addlegendimage{lG, mark=+, mark size=1.5pt}\addlegendentry{\LB{A1B-450 PETRO}}
\addlegendimage{lG, mark=square*, mark size=1.5pt}\addlegendentry{\LA{A2-450 PETRO}}
\addlegendimage{lG, rect}\addlegendentry{\LB{B1-450-DR WorldScan}}
\addlegendimage{lG, mark=*}\addlegendentry{\LA{B1-450-EA WorldScan}}
\addlegendimage{lG, mark=square}\addlegendentry{\LB{B2-450-EA WorldScan}}
\addlegendimage{lG, mark=square*, mark size=1.5pt}\addlegendentry{\LA{B2-450-DR WorldScan}}
\addlegendimage{lG, mark=asterisk}\addlegendentry{\LB{A1B-450-EA WorldScan}}
\addlegendimage{lG, mark=asterisk}\addlegendentry{\LA{A1B-450-DR WorldScan}}
\addlegendimage{lG, mark=o, mark size=1.4pt}\addlegendentry{\LB{A2-450-EA WorldScan}}
\addlegendimage{black, line width=2.8pt, mark=+, mark size=2.2pt, mark options={solid, cRed, line width=1pt}}\addlegendentry{\LA{WRE550}}
\addlegendimage{black, line width=2.8pt, mark=square*, mark size=1.8pt, mark options={solid, cRed, line width=0.3pt}}\addlegendentry{\LB{WGI550}}
\addlegendimage{cYellow, line width=2.8pt, mark=none}\addlegendentry{\LA{SRES-Minimum}}
\addlegendimage{cYellow, line width=2.8pt, mark=none}\addlegendentry{\LB{SRES-Maximum}}
\addlegendimage{cGrayLine, line width=2.8pt, mark=square, mark size=2pt, mark options={solid, line width=0.8pt}}\addlegendentry{\LA{Database~ Max}}
\addlegendimage{cGrayLine, line width=2.8pt, mark=triangle, mark size=2pt, mark options={solid, line width=0.8pt}}\addlegendentry{\LB{Database Min.}}
\end{axis}
% outer frame
\draw[black!80, line width=0.7pt] (-40.5pt,-40pt) -- (-40.5pt,424pt) -- (647.5pt,424pt) -- (647.5pt,-40pt);
\pgfresetboundingbox
\useasboundingbox (-45pt,-36.5pt) rectangle (648.5pt,428.5pt);
\end{tikzpicture}
\end{document}
